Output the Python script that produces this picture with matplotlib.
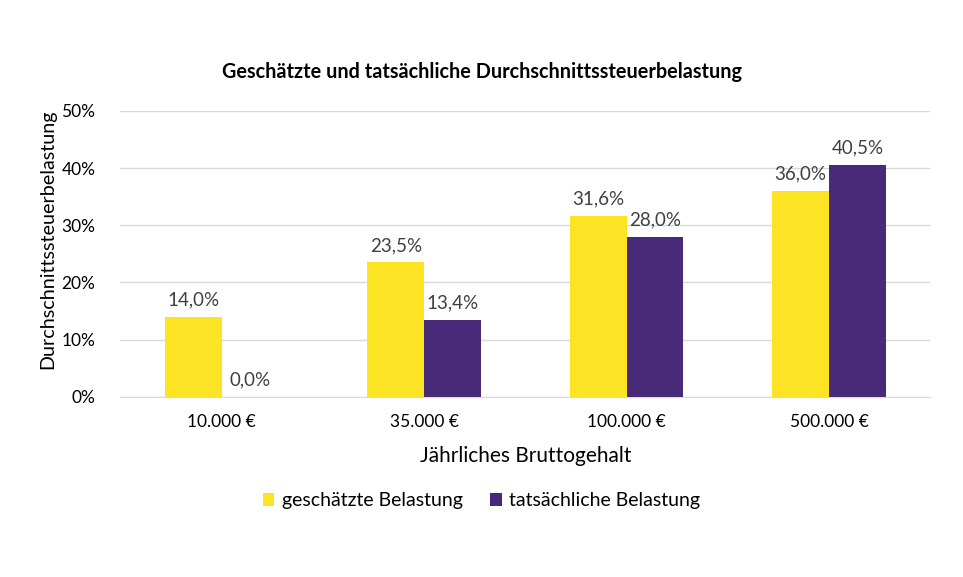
import numpy as np
import matplotlib.pyplot as plt
from matplotlib.ticker import PercentFormatter

categories = ["10.000 €", "35.000 €", "100.000 €", "500.000 €"]
geschaetzt = [14.0, 23.5, 31.6, 36.0]
tatsaechlich = [0.0, 13.4, 28.0, 40.5]
series_names = ["geschätzte Belastung", "tatsächliche Belastung"]

plt.rcParams['font.family'] = ['Lato', 'DejaVu Sans']

fig = plt.figure(figsize=(9.63, 5.77), dpi=100)
ax = fig.add_axes([0.125, 0.312, 0.841, 0.496])

x = np.arange(len(categories))
w = 0.28
b1 = ax.bar(x - w/2, geschaetzt, w, color='#FCE424', label=series_names[0], zorder=3)
b2 = ax.bar(x + w/2, tatsaechlich, w, color='#482A79', label=series_names[1], zorder=3)

def fmt(v):
    return f"{v:.1f}%".replace('.', ',')

for bars in (b1, b2):
    for bar in bars:
        h = bar.get_height()
        ax.text(bar.get_x() + bar.get_width()/2, h + 1.5, fmt(h),
                ha='center', va='bottom', fontsize=13.5, color='#404040')

ax.set_xlim(-0.5, 3.5)
ax.set_ylim(0, 50)
ax.set_yticks(range(0, 51, 10))
ax.yaxis.set_major_formatter(PercentFormatter(decimals=0))
ax.set_xticks(x)
ax.set_xticklabels(categories)
ax.tick_params(axis='both', length=0, labelsize=12.5, colors='#000000')
ax.tick_params(axis='x', pad=12)
ax.tick_params(axis='y', pad=18)
ax.grid(axis='y', color='#D9D9D9', linewidth=1, zorder=0)
for s in ['top', 'right', 'left']:
    ax.spines[s].set_visible(False)
ax.spines['bottom'].set_color('#D9D9D9')

ax.set_xlabel("Jährliches Bruttogehalt", fontsize=15, labelpad=12)
ax.set_ylabel("Durchschnittssteuerbelastung", fontsize=14.2)
ax.yaxis.set_label_coords(-0.079, 0.55)
fig.text(0.5, 0.875, "Geschätzte und tatsächliche Durchschnittssteuerbelastung",
         ha='center', va='center', fontsize=14.3, fontweight='bold')

fig.legend(loc='center', bbox_to_anchor=(0.5, 0.132), ncol=2, frameon=False,
           fontsize=14, handlelength=0.6, handleheight=0.6, columnspacing=1.4,
           handletextpad=0.4)

fig.savefig("out.png", dpi=100)
